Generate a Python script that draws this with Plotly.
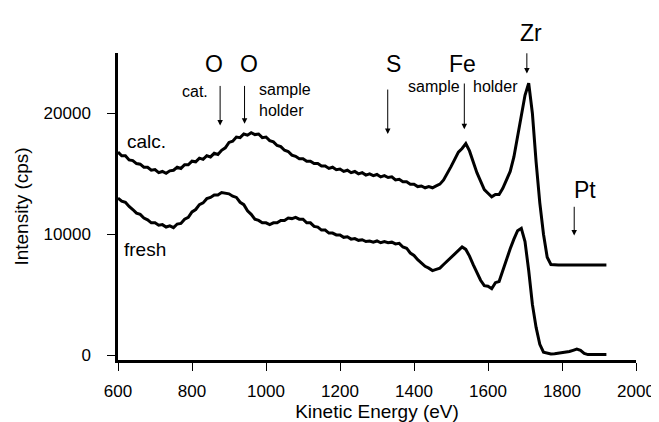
import plotly.graph_objects as go

# Kinetic energy grid (eV), one value every 10 eV from 600 to 1920
energy = list(range(600, 1930, 10))

# Spectrum of the calcined sample (kcps)
calc_kcps = [
    16.8, 16.5, 16.5, 16.15, 16.1, 15.85, 15.8, 15.55, 15.55, 15.3,
    15.35, 15.1, 15.2, 15.05, 15.25, 15.3, 15.55, 15.45, 15.75, 15.75,
    16.05, 16.0, 16.3, 16.2, 16.5, 16.4, 16.7, 16.6, 16.95, 17.15,
    17.6, 17.7, 18.05, 18.0, 18.3, 18.2, 18.4, 18.25, 18.3, 18.0,
    18.05, 17.75, 17.65, 17.35, 17.25, 16.95, 16.85, 16.55, 16.45, 16.25,
    16.25, 16.05, 16.05, 15.85, 15.85, 15.65, 15.65, 15.45, 15.55, 15.35,
    15.4, 15.2, 15.3, 15.1, 15.2, 15.0, 15.1, 14.9, 15.0, 14.85,
    14.95, 14.75, 14.85, 14.7, 14.75, 14.5, 14.55, 14.35, 14.35, 14.15,
    14.15, 13.95, 14.0, 13.85, 13.95, 13.85, 14.0, 14.15, 14.5, 15.0,
    15.6, 16.2, 16.8, 17.1, 17.5, 16.9, 16.0, 15.1, 14.4, 13.7,
    13.4, 13.1, 13.3, 13.3, 13.8, 14.5, 15.2, 16.4, 18.0, 19.6,
    21.5, 22.5, 20.0, 16.0, 12.6, 10.0, 8.1, 7.5, 7.45, 7.45,
    7.45, 7.45, 7.45, 7.45, 7.45, 7.45, 7.45, 7.45, 7.45, 7.45, 7.45, 7.45, 7.45,
]

# Spectrum of the fresh sample (kcps)
fresh_kcps = [
    13.0, 12.75, 12.65, 12.3, 12.05, 11.75, 11.65, 11.35, 11.2, 10.95,
    10.95, 10.75, 10.8, 10.6, 10.7, 10.55, 10.85, 10.9, 11.25, 11.4,
    11.85, 12.05, 12.45, 12.6, 12.95, 13.05, 13.25, 13.25, 13.45, 13.4,
    13.35, 13.15, 13.05, 12.65, 12.45, 11.95, 11.65, 11.25, 11.15, 10.95,
    10.95, 10.8, 10.95, 10.95, 11.15, 11.15, 11.35, 11.3, 11.4, 11.25,
    11.25, 10.95, 10.95, 10.65, 10.6, 10.35, 10.35, 10.1, 10.1, 9.95,
    9.95, 9.75, 9.8, 9.6, 9.65, 9.5, 9.55, 9.4, 9.45, 9.35,
    9.45, 9.3, 9.4, 9.3, 9.35, 9.2, 9.25, 8.95, 8.85, 8.45,
    8.25, 7.9, 7.65, 7.35, 7.2, 7.0, 7.1, 7.2, 7.5, 7.8,
    8.1, 8.4, 8.7, 8.95, 8.75, 8.2, 7.5, 6.9, 6.2, 5.75,
    5.7, 5.5, 6.0, 6.1, 7.0, 8.0, 8.8, 9.6, 10.3, 10.5,
    9.4, 7.0, 4.2, 2.3, 0.9, 0.25, 0.15, 0.1, 0.12, 0.15,
    0.2, 0.25, 0.3, 0.4, 0.5, 0.4, 0.15, 0.05, 0.05, 0.05, 0.05, 0.05, 0.05,
]

calc_cps = [v * 1000 for v in calc_kcps]
fresh_cps = [v * 1000 for v in fresh_kcps]

x_ticks = [600, 800, 1000, 1200, 1400, 1600, 1800, 2000]
y_ticks = [0, 10000, 20000]
y_tick_text = ["0", "10000", "20000"]

FONT = "Arial, Liberation Sans, Helvetica, sans-serif"

fig = go.Figure()
fig.add_trace(go.Scatter(x=energy, y=calc_cps, mode="lines",
                         line=dict(color="black", width=3), name="calc."))
fig.add_trace(go.Scatter(x=energy, y=fresh_cps, mode="lines",
                         line=dict(color="black", width=3), name="fresh"))

ann = []

def label(text, x, y, size, xanchor="center", align="center", yref="y"):
    ann.append(dict(text=text, x=x, y=y, xref="x", yref=yref, showarrow=False,
                    xanchor=xanchor, yanchor="middle", align=align,
                    font=dict(family=FONT, size=size, color="black")))

def arrow(x, y_tail, y_head):
    ann.append(dict(text="", x=x, y=y_head, ax=x, ay=y_tail, xref="x", yref="y",
                    axref="x", ayref="y", showarrow=True, arrowhead=2,
                    arrowsize=1.1, arrowwidth=1, arrowcolor="black"))

label("calc.", 618, 17700, 19, xanchor="left")
label("fresh", 612, 8730, 19, xanchor="left")
label("O", 859, 24080, 23)
label("O", 954, 24080, 23)
label("cat.", 807, 21800, 16)
label("sample<br>holder", 976, 21100, 16, xanchor="left", align="left")
label("S", 1344, 24080, 23)
label("Fe", 1531, 24080, 23)
label("sample", 1455, 22200, 16)
label("holder", 1621, 22200, 16)
label("Zr", 1717, 1.064, 23, yref="paper")
label("Pt", 1861, 13700, 23)

arrow(876, 22400, 19000)
arrow(942, 22400, 19150)
arrow(1329, 22100, 18300)
arrow(1536, 22600, 18700)
arrow(1705, 25100, 23300)
arrow(1833, 12400, 9900)

fig.update_layout(
    width=659, height=422,
    margin=dict(l=110, r=19, t=45, b=64),
    plot_bgcolor="white", paper_bgcolor="white",
    showlegend=False,
    font=dict(family=FONT, color="black", size=16),
    annotations=ann,
    xaxis=dict(range=[600, 2000], tickvals=x_ticks, showline=True, linecolor="black",
               linewidth=2.5, ticks="outside", ticklen=8, tickwidth=1.2, tickcolor="black",
               showgrid=False, zeroline=False, tickfont=dict(size=17), ticklabelstandoff=6,
               title=dict(text="Kinetic Energy (eV)", font=dict(size=19), standoff=4)),
    yaxis=dict(range=[-400, 25000], tickvals=y_ticks, ticktext=y_tick_text, showline=True,
               linecolor="black", linewidth=2.5, ticks="outside", ticklen=8, tickwidth=1.2,
               tickcolor="black", showgrid=False, zeroline=False, tickfont=dict(size=17),
               ticklabelstandoff=13,
               title=dict(text="Intensity (cps)", font=dict(size=19), standoff=10)),
)

fig.write_html("out.html")
